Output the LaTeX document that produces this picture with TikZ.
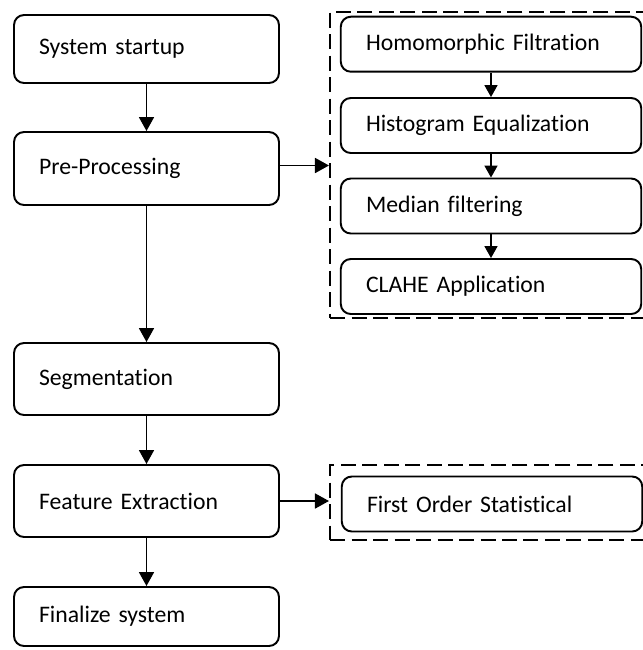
\documentclass[tikz,border=0pt]{standalone}
\usepackage{fontspec}
\setmainfont{Carlito}[Ligatures=NoCommon]
\usetikzlibrary{arrows.meta,positioning}

\tikzset{
  stage/.style={draw, line width=1.1pt, rounded corners=0.2cm,
    minimum width=5.3cm, text width=4.3cm, inner xsep=0.5cm, align=left,
    font=\fontsize{13.5}{16}\selectfont},
  substage/.style={stage, minimum width=6.01cm, text width=5.0cm, minimum height=1.1cm},
  group/.style={draw, line width=1.2pt, dash pattern=on 0.3cm off 0.13cm,
    minimum width=6.6cm, inner sep=0pt},
  flow/.style={line width=1pt, -{Triangle[length=0.28cm,width=0.3cm]}},
  subflow/.style={line width=1pt, -{Triangle[length=0.24cm,width=0.26cm]}}
}

\begin{document}
\begin{tikzpicture}[x=0.02cm, y=-0.02cm]
      \clip (0,0) rectangle (643,650);
      \node[stage, minimum height=1.36cm] (start) at (146.5,49) {System startup};
      \node[stage, minimum height=1.46cm] (pre) at (146.5,168.5) {Pre-Processing};
      \node[stage, minimum height=1.44cm] (seg) at (146.5,379) {Segmentation};
      \node[stage, minimum height=1.44cm] (feat) at (146.5,501) {Feature Extraction};
      \node[stage, minimum height=1.18cm] (fin) at (146.5,616.5) {Finalize system};
      \node[group, minimum height=6.13cm] (prebox) at (495,164.9) {};
      \node[group, minimum height=1.5cm] (featbox) at (495,502.5) {};
      \node[substage] (homo) at (491,44.2) {Homomorphic Filtration};
      \node[substage] (hist) at (491,125.5) {Histogram Equalization};
      \node[substage] (med) at (491,206) {Median filtering};
      \node[substage] (clahe) at (491,286.5) {CLAHE Application};
      \node[substage] (stat) at (492,504) {First Order Statistical};
      \draw[flow] (start) -- (pre);
      \draw[flow] (pre) -- (seg);
      \draw[flow] (seg) -- (feat);
      \draw[flow] (feat) -- (fin);
      \draw[flow] ([yshift=0.06cm]pre.east) -- ([yshift=0.06cm]pre.east -| prebox.west);
      \draw[flow] (feat.east) -- (feat.east -| featbox.west);
      \draw[subflow] (homo) -- (hist);
      \draw[subflow] (hist) -- (med);
      \draw[subflow] (med) -- (clahe);
\end{tikzpicture}
\end{document}
